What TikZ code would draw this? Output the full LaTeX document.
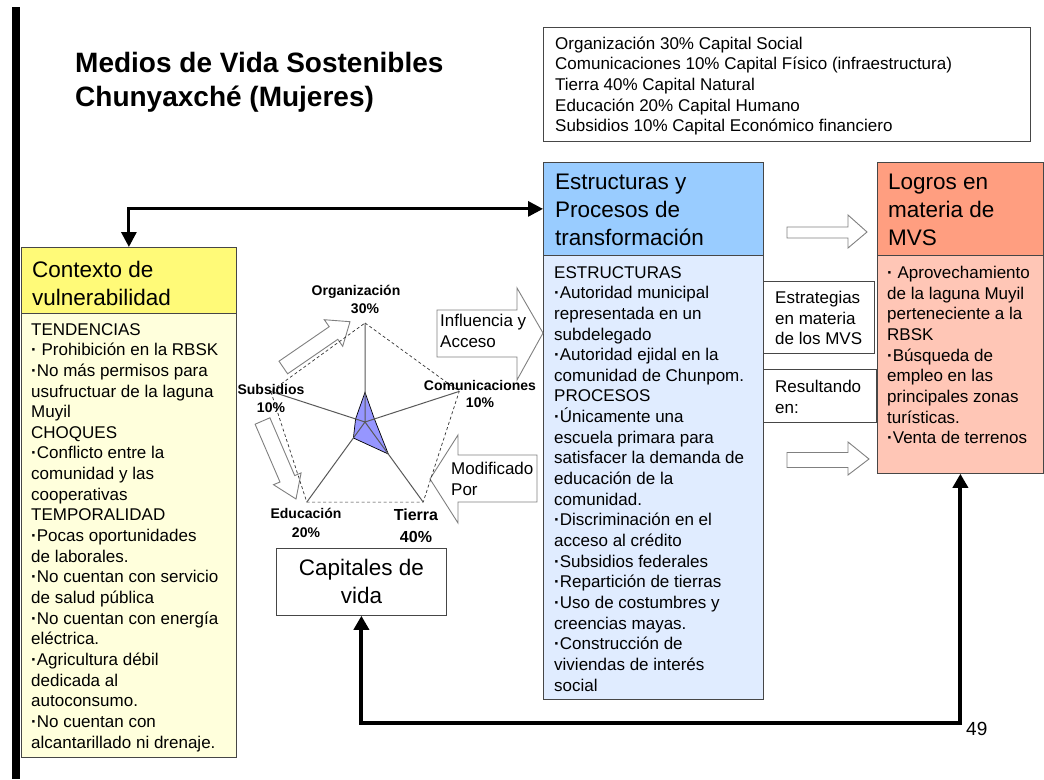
\documentclass[tikz,border=0pt]{standalone}
\usepackage{fontspec}
\setmainfont{Liberation Sans}
\usetikzlibrary{arrows.meta}
\definecolor{ctxH}{RGB}{255,250,120}
\definecolor{ctxB}{RGB}{255,255,220}
\definecolor{estH}{RGB}{153,204,255}
\definecolor{estB}{RGB}{224,236,255}
\definecolor{logH}{RGB}{255,158,128}
\definecolor{logB}{RGB}{255,198,182}
\definecolor{radar}{RGB}{150,150,255}
\definecolor{boxline}{RGB}{70,70,70}
\definecolor{hollowline}{RGB}{128,128,128}
\newcommand{\bdot}{\textbf{·}}
\begin{document}
\begin{tikzpicture}[x=1pt,y=-1pt,
  panel/.style={draw=boxline, line width=0.8pt, inner sep=0pt, anchor=north west},
  txt/.style={inner sep=0pt, anchor=north west, align=left, font=\fontsize{17}{20.65}\selectfont},
  hdrtxt/.style={inner sep=0pt, anchor=north west, align=left, font=\fontsize{22.5}{27.7}\selectfont},
  lbl/.style={inner sep=0pt, align=center, font=\bfseries\fontsize{14}{18}\selectfont},
  hollow/.style={draw=hollowline, fill=white, line width=0.9pt, line join=miter},
  conn/.style={line width=3pt, {Triangle[length=15pt,width=15pt]}-{Triangle[length=15pt,width=15pt]}},
  connb/.style={line width=4pt, {Triangle[length=14pt,width=15pt]}-{Triangle[length=14pt,width=15pt]}}
]
\useasboundingbox (0,0) rectangle (1044,779);
\fill[white] (0,0) rectangle (1044,779);
% left black bar
\fill[black] (12,7) rectangle (20,779);

% title
\node[inner sep=0pt, anchor=north west, align=left, font=\bfseries\fontsize{28}{34}\selectfont] (title) at (75,52.5)
  {Medios de Vida Sostenibles\\Chunyaxché (Mujeres)};

% legend box
\node[panel, minimum width=487pt, minimum height=114pt] (legend) at (543,27) {};
\node[txt] (legendt) at (555,36.5) {Organización 30\% Capital Social\\
Comunicaciones 10\% Capital Físico (infraestructura)\\
Tierra 40\% Capital Natural\\
Educación 20\% Capital Humano\\
Subsidios 10\% Capital Económico financiero};

% Contexto de vulnerabilidad
\node[panel, fill=ctxH, minimum width=215pt, minimum height=66pt] (ctxh) at (21,247) {};
\node[panel, fill=ctxB, minimum width=215pt, minimum height=444pt] (ctxb) at (21,313) {};
\node[hdrtxt] (ctxht) at (32,261) {Contexto de\\vulnerabilidad};
\node[txt] (ctxbt) at (31,323) {TENDENCIAS\\
\bdot{} Prohibición en la RBSK\\
\bdot No más permisos para\\
usufructuar de la laguna\\
Muyil\\
CHOQUES\\
\bdot Conflicto entre la\\
comunidad y las\\
cooperativas\\
TEMPORALIDAD\\
\bdot Pocas oportunidades\\
de laborales.\\
\bdot No cuentan con servicio\\
de salud pública\\
\bdot No cuentan con energía\\
eléctrica.\\
\bdot Agricultura débil\\
dedicada al\\
autoconsumo.\\
\bdot No cuentan con\\
alcantarillado ni drenaje.};

% Estructuras y procesos
\node[panel, fill=estH, minimum width=220pt, minimum height=93pt] (esth) at (543,162) {};
\node[panel, fill=estB, minimum width=220pt, minimum height=444pt] (estb) at (543,255) {};
\node[hdrtxt] (estht) at (555,174) {Estructuras y\\Procesos de\\transformación};
\node[txt] (estbt) at (554,266) {ESTRUCTURAS\\
\bdot Autoridad municipal\\
representada en un\\
subdelegado\\
\bdot Autoridad ejidal en la\\
comunidad de Chunpom.\\
PROCESOS\\
\bdot Únicamente  una\\
escuela primara para\\
satisfacer la demanda de\\
educación de la\\
comunidad.\\
\bdot Discriminación en el\\
acceso al crédito\\
\bdot Subsidios federales\\
\bdot Repartición de tierras\\
\bdot Uso de costumbres y\\
creencias mayas.\\
\bdot Construcción de\\
viviendas de interés\\
social};

% Logros
\node[panel, fill=logH, minimum width=166pt, minimum height=93pt] (logh) at (877,162) {};
\node[panel, fill=logB, minimum width=166pt, minimum height=218pt] (logb) at (877,255) {};
\node[hdrtxt] (loght) at (888,174) {Logros en\\materia de\\MVS};
\node[txt] (logbt) at (887,266) {\bdot{} Aprovechamiento\\
de la laguna Muyil\\
perteneciente a la\\
RBSK\\
\bdot Búsqueda de\\
empleo en las\\
principales zonas\\
turísticas.\\
\bdot Venta de terrenos};

% Estrategias / Resultando
\node[panel, minimum width=111pt, minimum height=72pt] (estr) at (763,281) {};
\node[txt] (estrt) at (775,291) {Estrategias\\en materia\\de los MVS};
\node[panel, minimum width=113pt, minimum height=53pt] (resu) at (763,369) {};
\node[txt] (resut) at (775,380) {Resultando\\en:};

% Capitales de vida
\node[panel, minimum width=170pt, minimum height=67pt] (capv) at (276,548) {};
\node[inner sep=0pt, align=center, font=\fontsize{22.5}{28}\selectfont] (capvt) at (capv.center) {Capitales de\\vida};

% hollow block arrows
\draw[hollow] (787,227) -- (848,227) -- (848,215) -- (867,232) -- (848,248) -- (848,238) -- (787,238) -- cycle;
\draw[hollow] (787,452.5) -- (848,452.5) -- (848,442) -- (869,459) -- (848,475) -- (848,467.5) -- (787,467.5) -- cycle;
\draw[hollow] (437,310) -- (517,310) -- (517,288) -- (543,333) -- (517,380) -- (517,357) -- (437,357) -- cycle;
\node[txt] (inflt) at (440,314) {Influencia y\\Acceso};
\draw[hollow] (537,455) -- (458,455) -- (458,435) -- (430,479) -- (458,523) -- (458,502) -- (537,502) -- cycle;
\node[txt] (modt) at (451,462) {Modificado\\Por};
% small arrows around the radar
\draw[hollow] (287.6,373.8) -- (337.8,339.3) -- (342.7,346.3) -- (350,321.7) -- (324.3,319.7) -- (329.2,326.7) -- (279.0,361.2) -- cycle;
\draw[hollow] (269.9,417.8) -- (294.7,475.6) -- (301.1,472.9) -- (296,499) -- (273.5,484.7) -- (280.0,482.0) -- (255.1,424.2) -- cycle;

% radar chart
\coordinate (rc) at (365,422);
\coordinate (rO) at (365,323);
\coordinate (rC) at (459.2,391.4);
\coordinate (rT) at (423.2,502.1);
\coordinate (rE) at (306.8,502.1);
\coordinate (rS) at (270.8,391.4);
\draw[black!80, line width=0.7pt, dash pattern=on 3pt off 2.5pt] (rO) -- (rC) -- (rT) -- (rE) -- (rS) -- cycle;
\draw[fill=radar, draw=black, line width=0.7pt] (365,392.3) -- (374.4,418.9) -- (388.3,454.0) -- (353.4,438.0) -- (355.6,418.9) -- cycle;
\draw[black!65, line width=1pt] (rc) -- (rO) (rc) -- (rC) (rc) -- (rT) (rc) -- (rE) (rc) -- (rS);
\node[lbl] (lO) at (356,299) {Organización\\\hspace*{18pt}30\%};
\node[lbl] (lS) at (271,398) {Subsidios\\10\%};
\node[lbl, font=\bfseries\fontsize{14}{17}\selectfont] (lC) at (480,393.5) {Comunicaciones\\10\%};
\node[lbl, font=\bfseries\fontsize{14}{19}\selectfont] (lE) at (306,522.5) {Educación\\20\%};
\node[lbl, font=\bfseries\fontsize{16}{22}\selectfont] (lT) at (416,526) {Tierra\\40\%};

% connectors
\draw[conn] (ctxh.north) |- (esth.west);
\coordinate (bot) at (0,723);
\draw[connb, line join=miter] (logb.south) -- (logb.south |- bot) -- (capv.south |- bot) -- (capv.south);

% page number
\node[inner sep=0pt, anchor=west, font=\fontsize{19}{22}\selectfont] (pnum) at (966,729) {49};
\end{tikzpicture}
\end{document}
